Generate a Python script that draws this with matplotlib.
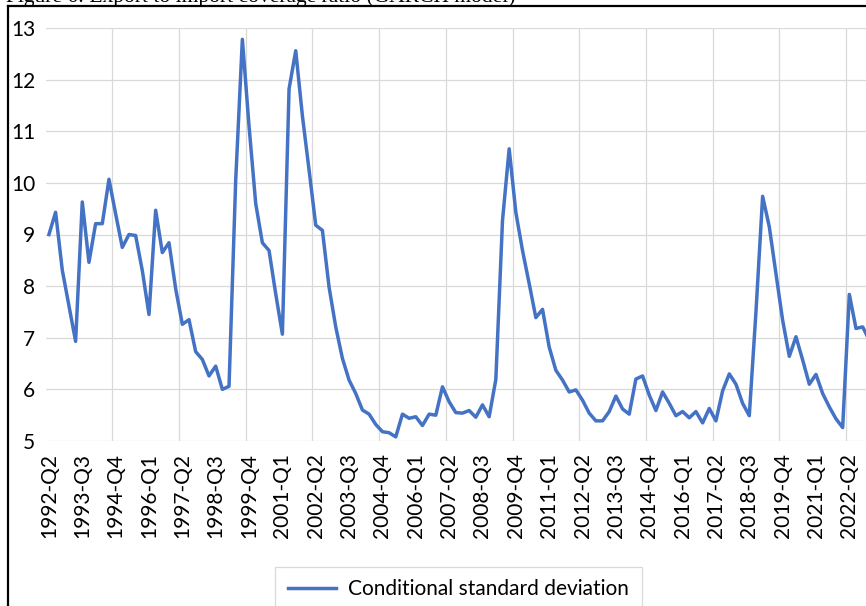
import matplotlib
matplotlib.use("Agg")
import matplotlib.pyplot as plt
from matplotlib.lines import Line2D
import numpy as np

# ---- data ----
series_name = "Conditional standard deviation"
values = [9.0, 9.43, 8.31, 7.62, 6.93, 9.63, 8.46, 9.21, 9.21, 10.07,
          9.4, 8.75, 9.0, 8.98, 8.3, 7.45, 9.47, 8.65, 8.84, 7.95,
          7.26, 7.35, 6.73, 6.58, 6.26, 6.45, 6.0, 6.06, 10.05, 12.78,
          11.1, 9.6, 8.84, 8.69, 7.85, 7.07, 11.82, 12.56, 11.3, 10.25,
          9.18, 9.08, 7.98, 7.21, 6.6, 6.18, 5.92, 5.6, 5.52, 5.32,
          5.18, 5.16, 5.08, 5.52, 5.44, 5.47, 5.30, 5.52, 5.5, 6.05,
          5.76, 5.55, 5.54, 5.59, 5.46, 5.7, 5.47, 6.19, 9.27, 10.66,
          9.43, 8.69, 8.05, 7.39, 7.55, 6.82, 6.37, 6.18, 5.95, 5.99,
          5.79, 5.54, 5.39, 5.39, 5.57, 5.87, 5.62, 5.52, 6.2, 6.26,
          5.89, 5.59, 5.95, 5.73, 5.49, 5.57, 5.45, 5.57, 5.35, 5.63,
          5.39, 5.97, 6.3, 6.1, 5.73, 5.49, 7.5, 9.74, 9.15, 8.24,
          7.34, 6.64, 7.02, 6.57, 6.1, 6.29, 5.92, 5.66, 5.43, 5.26,
          7.84, 7.18, 7.21, 6.95]
tick_labels = ["1992-Q2", "1993-Q3", "1994-Q4", "1996-Q1", "1997-Q2",
               "1998-Q3", "1999-Q4", "2001-Q1", "2002-Q2", "2003-Q3",
               "2004-Q4", "2006-Q1", "2007-Q2", "2008-Q3", "2009-Q4",
               "2011-Q1", "2012-Q2", "2013-Q3", "2014-Q4", "2016-Q1",
               "2017-Q2", "2018-Q3", "2019-Q4", "2021-Q1", "2022-Q2"]
y_ticks = [5, 6, 7, 8, 9, 10, 11, 12, 13]
title = "Figure 6: Export to import coverage ratio (GARCH model)"

W, H = 866, 606
fig = plt.figure(figsize=(W / 100, H / 100), dpi=100)
FONT = "Lato"

left_px, right_px, top_px, bottom_px = 45.6, 866, 28, 441
ax = fig.add_axes([left_px / W, 1 - bottom_px / H,
                   (right_px - left_px) / W, (bottom_px - top_px) / H])

x = np.arange(len(values))
line, = ax.plot(x, values, color="#4472C4", lw=2.5, solid_joinstyle="round",
                label=series_name)

ax.set_xlim(-0.5, -0.5 + (right_px - left_px) / 6.67)
ax.set_ylim(5, 13)
ax.set_yticks(y_ticks)
ax.set_yticklabels([str(v) for v in y_ticks], fontfamily=FONT, fontsize=15)
ax.set_xticks(np.arange(0, 5 * len(tick_labels), 5))
ax.set_xticklabels(tick_labels, rotation=90, fontfamily=FONT, fontsize=15)
ax.set_xticks(np.arange(9.5, 5 * len(tick_labels), 10), minor=True)
ax.tick_params(axis="both", which="both", length=0)
ax.tick_params(axis="y", pad=7.6)
ax.tick_params(axis="x", pad=8.6)
ax.grid(axis="y", which="major", color="#d9d9d9", lw=0.9)
ax.grid(axis="x", which="minor", color="#d9d9d9", lw=0.9)
ax.set_axisbelow(True)
for s in ax.spines.values():
    s.set_visible(False)

leg = fig.legend(handles=[line], loc="center",
                 bbox_to_anchor=(458.5 / W, 1 - 589 / H),
                 prop={"family": FONT, "size": 15}, frameon=True,
                 fancybox=False, edgecolor="#d9d9d9", framealpha=1,
                 handlelength=2.3, handletextpad=0.6, borderpad=0.6)
leg.get_frame().set_linewidth(0.9)

# frame of the embedded chart and clipped caption
fig.add_artist(Line2D([8 / W, 1], [1 - 6 / H, 1 - 6 / H], color="black",
                      lw=1.6, transform=fig.transFigure))
fig.add_artist(Line2D([8 / W, 8 / W], [0, 1 - 6 / H], color="black",
                      lw=1.6, transform=fig.transFigure))
fig.text(6 / W, 1 - 1.8 / H, title, fontfamily="Liberation Serif",
         fontsize=15.5, ha="left", va="baseline")

fig.savefig("out.png", dpi=100)
